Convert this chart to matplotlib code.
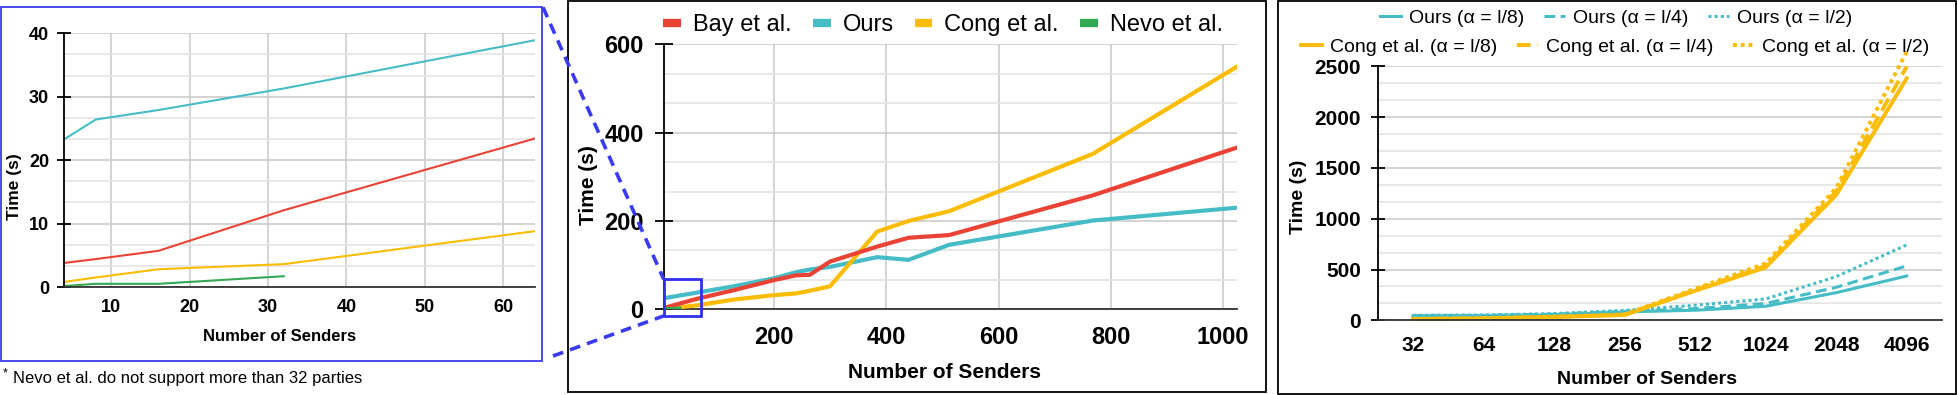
import matplotlib
matplotlib.use("Agg")
import matplotlib.pyplot as plt
from matplotlib.ticker import MultipleLocator
from matplotlib.patches import Rectangle
from matplotlib.lines import Line2D

plt.rcParams['font.family'] = ['Liberation Sans', 'DejaVu Sans']

# ---------- data ----------
# zoomed view (4..64 senders)
zoom_x = [4, 8, 16, 32, 64]
zoom_bay = [3.8, 4.4, 5.7, 12.1, 23.4]
zoom_ours = [23.3, 26.4, 27.9, 31.3, 38.9]
zoom_cong = [0.8, 1.5, 2.8, 3.6, 8.8]
nevo_x = [4, 8, 16, 32]
nevo_y = [0.15, 0.5, 0.5, 1.7]

# full view (4..1024 senders)
full_x = [4, 64, 128, 200, 240, 264, 300, 384, 440, 512, 768, 1024]
full_bay = [3, 24, 43, 66, 77, 78, 108, 142, 162, 168, 258, 366]
full_ours = [25, 38, 52, 70, 84, 90, 96, 118, 112, 146, 201, 230]
full_cong = [1, 9, 22, 32, 36, 42, 52, 176, 200, 222, 352, 549]

# alpha comparison
alpha_labels = ["32", "64", "128", "256", "512", "1024", "2048", "4096"]
ours_a8 = [45, 46, 55, 82, 99, 138, 272, 436]
ours_a4 = [47, 48, 60, 88, 115, 165, 325, 535]
ours_a2 = [50, 52, 66, 98, 148, 210, 430, 742]
cong_a8 = [12, 18, 32, 52, 290, 520, 1234, 2382]
cong_a4 = [13, 19, 34, 55, 300, 535, 1267, 2497]
cong_a2 = [14, 20, 36, 58, 310, 560, 1300, 2645]

RED = "#EA4335"
CYAN = "#46BDC6"
YEL = "#FBBC04"
GRN = "#34A853"
BLUE = "#3a3af5"

W, H = 1959, 395
fig = plt.figure(figsize=(W / 100, H / 100), dpi=100)


def px_axes(l, r, top, bottom):
    return fig.add_axes([l / W, 1 - bottom / H, (r - l) / W, (bottom - top) / H])


def style(ax, minor, ticklen, lsize, ypad, xpad):
    for s in ["top", "right"]:
        ax.spines[s].set_visible(False)
    ax.spines["left"].set_color("black")
    ax.spines["left"].set_linewidth(1.3)
    ax.spines["bottom"].set_color("#333333")
    ax.spines["bottom"].set_linewidth(1.3)
    ax.yaxis.set_minor_locator(MultipleLocator(minor))
    ax.grid(which="major", axis="y", color="#cccccc", lw=1.2)
    ax.grid(which="minor", axis="y", color="#e4e4e4", lw=1.2)
    ax.set_axisbelow(True)
    ax.tick_params(axis="y", which="major", direction="inout", length=ticklen,
                   width=1.3, labelsize=lsize, pad=ypad)
    ax.tick_params(axis="y", which="minor", length=0)
    ax.tick_params(axis="x", which="both", length=0, labelsize=lsize, pad=xpad)
    for t in ax.get_xticklabels() + ax.get_yticklabels():
        t.set_fontweight("bold")


# ---------- panel 1 : zoom ----------
ax1 = px_axes(64.3, 534.6, 33.3, 287)
ax1.plot(zoom_x, zoom_ours, color=CYAN, lw=1.5)
ax1.plot(zoom_x, zoom_bay, color=RED, lw=1.5)
ax1.plot(zoom_x, zoom_cong, color=YEL, lw=1.5)
ax1.plot(nevo_x, nevo_y, color=GRN, lw=1.5)
ax1.set_xlim(4, 64)
ax1.set_ylim(0, 40)
ax1.set_xticks([10, 20, 30, 40, 50, 60])
ax1.set_yticks([0, 10, 20, 30, 40])
ax1.grid(which="major", axis="x", color="#cccccc", lw=1.2)
style(ax1, 10 / 3, 10, 13, 6, 9)
ax1.set_xlabel("Number of Senders", fontsize=12, fontweight="bold")
ax1.set_ylabel("Time (s)", fontsize=12.5, fontweight="bold")
ax1.xaxis.set_label_coords(0.458, -0.166)
ax1.yaxis.set_label_coords(-0.090, 0.394)

fig.patches.append(Rectangle((0.5 / W, 1 - 361 / H), 541.3 / W, 353.7 / H,
                             transform=fig.transFigure, fill=False,
                             edgecolor="#4a4aee", lw=1.4))
fig.text(3 / W, 1 - 373 / H, "*", fontsize=9, va="center", ha="left")
fig.text(13 / W, 1 - 379 / H, "Nevo et al. do not support more than 32 parties",
         fontsize=12, va="center", ha="left")

# ---------- panel 2 : full ----------
ax2 = px_axes(663.7, 1236.7, 44.3, 309.3)
ax2.plot(full_x, full_ours, color=CYAN, lw=3, label="Ours", zorder=3)
ax2.plot(full_x, full_cong, color=YEL, lw=3, label="Cong et al.", zorder=3)
ax2.plot(full_x, full_bay, color=RED, lw=3, label="Bay et al.", zorder=4)
ax2.plot(nevo_x, nevo_y, color=GRN, lw=3, label="Nevo et al.", zorder=5)
ax2.set_xlim(4, 1024)
ax2.set_ylim(0, 600)
ax2.set_xticks([200, 400, 600, 800, 1000])
ax2.set_yticks([0, 200, 400, 600])
ax2.grid(which="major", axis="x", color="#cccccc", lw=1.2)
style(ax2, 200 / 3, 13, 17, 8, 12)
ax2.set_xlabel("Number of Senders", fontsize=15, fontweight="bold")
ax2.set_ylabel("Time (s)", fontsize=15, fontweight="bold")
ax2.xaxis.set_label_coords(0.490, -0.203)
ax2.yaxis.set_label_coords(-0.1147, 0.469)

leg_handles = [Line2D([], [], color=c, lw=6, solid_capstyle="butt")
               for c in [RED, CYAN, YEL, GRN]]
fig.legend(leg_handles, ["Bay et al.", "Ours", "Cong et al.", "Nevo et al."],
           loc="center", bbox_to_anchor=(943 / W, 1 - 25 / H), ncol=4,
           frameon=False, fontsize=17, handlelength=0.75, handletextpad=0.5,
           columnspacing=0.9, borderpad=0)

# zoom marker box and the dashed lines joining it to panel 1
box_x0, box_y0, box_w, box_h = 4, -15, 67, 83
ax2.add_patch(Rectangle((box_x0, box_y0), box_w, box_h, fill=False,
                        edgecolor="#3030f0", lw=2, clip_on=False, zorder=6))
to_fig = fig.transFigure.inverted()
top_left = to_fig.transform(ax2.transData.transform((box_x0, box_y0 + box_h)))
bot_left = to_fig.transform(ax2.transData.transform((box_x0, box_y0)))
for start, end in [((543 / W, 1 - 7.3 / H), top_left),
                   ((553 / W, 1 - 356 / H), bot_left)]:
    fig.add_artist(Line2D([start[0], end[0]], [start[1], end[1]],
                          transform=fig.transFigure, color=BLUE, lw=2.6,
                          linestyle=(0, (3, 2)), zorder=7))

fig.patches.append(Rectangle((568 / W, 1 - 392 / H), 697.7 / W, 390.7 / H,
                             transform=fig.transFigure, fill=False,
                             edgecolor="black", lw=1.3))

# ---------- panel 3 : alpha ----------
ax3 = px_axes(1377.6, 1942, 66.3, 320.3)
xs = range(len(alpha_labels))
dash = (0, (3.5, 1.8))
dot = (0, (1, 1))
l1, = ax3.plot(xs, ours_a8, color=CYAN, lw=2.2, clip_on=False)
l2, = ax3.plot(xs, ours_a4, color=CYAN, lw=2.2, ls=dash, clip_on=False)
l3, = ax3.plot(xs, ours_a2, color=CYAN, lw=2.2, ls=dot, clip_on=False)
l4, = ax3.plot(xs, cong_a8, color=YEL, lw=2.8, clip_on=False)
l5, = ax3.plot(xs, cong_a4, color=YEL, lw=2.8, ls=dash, clip_on=False)
l6, = ax3.plot(xs, cong_a2, color=YEL, lw=2.8, ls=dot, clip_on=False)
ax3.set_xlim(-0.5, 7.5)
ax3.set_ylim(0, 2500)
ax3.set_xticks(list(xs))
ax3.set_xticklabels(alpha_labels)
ax3.set_yticks([0, 500, 1000, 1500, 2000, 2500])
style(ax3, 500 / 3, 10, 15, 7, 11)
ax3.set_xlabel("Number of Senders", fontsize=14, fontweight="bold")
ax3.set_ylabel("Time (s)", fontsize=14, fontweight="bold")
ax3.xaxis.set_label_coords(0.478, -0.200)
ax3.yaxis.set_label_coords(-0.125, 0.485)

fig.legend([l1, l2, l3],
           ["Ours (α = l/8)", "Ours (α = l/4)", "Ours (α = l/2)"],
           loc="center", bbox_to_anchor=(1616 / W, 1 - 18.3 / H), ncol=3,
           frameon=False, fontsize=14, handlelength=1.1,
           handletextpad=0.4, columnspacing=1.0, borderpad=0)
fig.legend([l4, l5, l6],
           ["Cong et al. (α = l/8)", "Cong et al. (α = l/4)", "Cong et al. (α = l/2)"],
           loc="center", bbox_to_anchor=(1615 / W, 1 - 46.7 / H), ncol=3,
           frameon=False, fontsize=14, handlelength=1.1,
           handletextpad=0.4, columnspacing=1.0, borderpad=0)

fig.patches.append(Rectangle((1277.5 / W, 1 - 394 / H), 678.5 / W, 393 / H,
                             transform=fig.transFigure, fill=False,
                             edgecolor="black", lw=1.3))

fig.savefig("out.png", dpi=100)
